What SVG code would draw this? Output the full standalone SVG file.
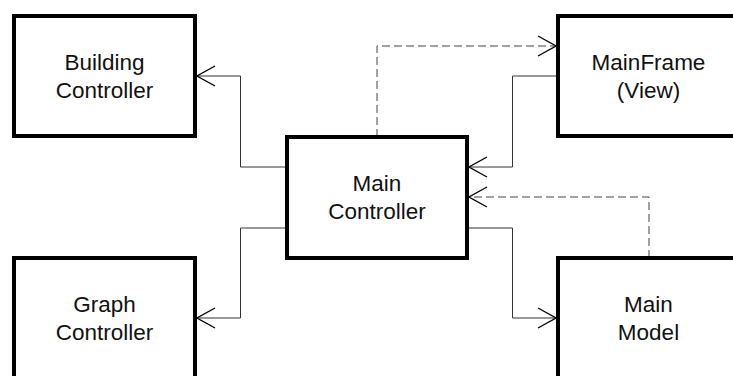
<svg xmlns="http://www.w3.org/2000/svg" width="733" height="376" viewBox="0 0 733 376">
<style>
.box{fill:#fff;stroke:#000;stroke-width:4}
.lbl{font-family:"Liberation Sans",Arial,sans-serif;font-size:22.5px;fill:#111;text-anchor:middle}
.ln{fill:none;stroke:#333;stroke-width:1}
.dash{fill:none;stroke:#444;stroke-width:1;stroke-dasharray:8 4}
</style>
<defs>
<marker id="open" viewBox="0 0 20 22" refX="19" refY="11" markerWidth="20" markerHeight="22" markerUnits="userSpaceOnUse" orient="auto">
<path d="M1,1 L19,11 L1,21" fill="none" stroke="#000" stroke-width="1.3"/>
</marker>
</defs>
<g id="connectors">
<path class="ln" d="M287,167 H240.5 V76 H197" marker-end="url(#open)"/>
<path class="ln" d="M287,228 H240.5 V318 H197" marker-end="url(#open)"/>
<path class="dash" d="M377,137 V46 H556" marker-end="url(#open)"/>
<path class="ln" d="M556,76 H512.5 V167 H469" marker-end="url(#open)"/>
<path class="dash" d="M649,258 V197 H469" marker-end="url(#open)"/>
<path class="ln" d="M469,228 H512.5 V318 H556" marker-end="url(#open)"/>
</g>
<g id="building-controller">
<rect class="box" x="14" y="16" width="181" height="120"/>
<text class="lbl" x="104.5" y="70">Building</text>
<text class="lbl" x="104.5" y="98">Controller</text>
</g>
<g id="mainframe-view">
<rect class="box" x="558" y="16" width="181" height="120"/>
<text class="lbl" x="648.5" y="70">MainFrame</text>
<text class="lbl" x="648.5" y="98">(View)</text>
</g>
<g id="main-controller">
<rect class="box" x="287" y="137" width="180" height="121"/>
<text class="lbl" x="377" y="191">Main</text>
<text class="lbl" x="377" y="219">Controller</text>
</g>
<g id="graph-controller">
<rect class="box" x="14" y="258" width="181" height="120"/>
<text class="lbl" x="104.5" y="312">Graph</text>
<text class="lbl" x="104.5" y="340">Controller</text>
</g>
<g id="main-model">
<rect class="box" x="558" y="258" width="181" height="120"/>
<text class="lbl" x="648.5" y="312">Main</text>
<text class="lbl" x="648.5" y="340">Model</text>
</g>
</svg>
